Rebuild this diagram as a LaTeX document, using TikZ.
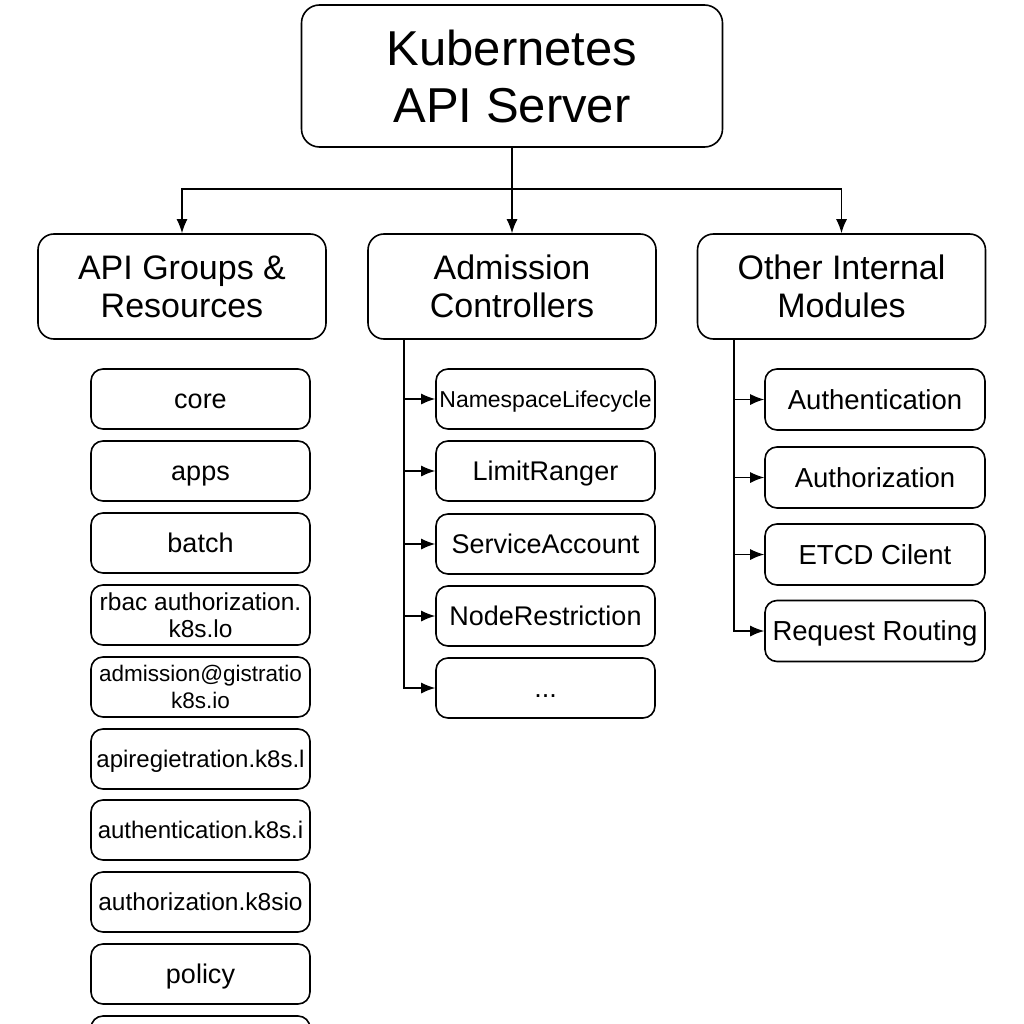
\documentclass[tikz,border=0pt]{standalone}
\usepackage{fontspec}
\setmainfont{Liberation Sans}
\usetikzlibrary{arrows.meta}

\begin{document}
\begin{tikzpicture}[x=1pt, y=-1pt,
	box/.style={draw, line width=1.6pt, align=center, inner sep=0pt},
	server/.style={box, rounded corners=18pt, minimum width=421pt, minimum height=142pt,
		font=\fontsize{49}{57}\selectfont},
	group/.style={box, rounded corners=16pt, minimum width=288pt, minimum height=105pt,
		font=\fontsize{34}{38}\selectfont},
	itembox/.style={box, rounded corners=12pt, minimum width=219pt, minimum height=60pt,
		font=\fontsize{24.5}{27}\selectfont},
	item/.style={itembox, text height=17.6pt, text depth=.5pt},
	bigitem/.style={item, font=\fontsize{27}{29}\selectfont, text height=19.4pt},
	ctrl/.style={bigitem},
	module/.style={item, minimum width=220pt, minimum height=61pt,
		font=\fontsize{27.5}{29}\selectfont, text height=19.8pt},
	link/.style={line width=1.3pt},
	arr/.style={link, -{Latex[length=14pt, width=11pt]}}]
		\clip (0,0) rectangle (1024,1024);
		% top
		\node[server] (server) at (512,76) {Kubernetes\\API Server};
		% second row
		\node[group] (groups) at (182,286.5) {API Groups \&\\Resources};
		\node[group] (admission) at (512,286.5) {Admission\\Controllers};
		\node[group] (other) at (841.5,286.5) {Other Internal\\Modules};
		% api groups
		\node[bigitem] (core) at (200.5,399) {core};
		\node[bigitem] (apps) at (200.5,471) {apps};
		\node[bigitem] (batch) at (200.5,543) {batch};
		\node[itembox] (rbac) at (200.5,615) {rbac authorization.\\k8s.lo};
		\node[itembox, font=\fontsize{22.5}{27}\selectfont] (admreg) at (200.5,687) {admission@gistratio\\k8s.io};
		\node[item, font=\fontsize{24}{27}\selectfont] (apireg) at (200.5,759) {apiregietration.k8s.l};
		\node[item, font=\fontsize{24}{27}\selectfont] (authn) at (200.5,830) {authentication.k8s.i};
		\node[item] (authz) at (200.5,902) {authorization.k8sio};
		\node[bigitem] (policy) at (200.5,974) {policy};
		\node[item] (more) at (200.5,1046) {};
		% admission controllers
		\node[ctrl, font=\fontsize{23}{27}\selectfont, text height=16.6pt] (nslife) at (545.5,399) {NamespaceLifecycle};
		\node[ctrl] (limit) at (545.5,471) {LimitRanger};
		\node[ctrl] (svcacc) at (545.5,544) {ServiceAccount};
		\node[ctrl] (noderes) at (545.5,616) {NodeRestriction};
		\node[ctrl] (dots) at (545.5,688) {...};
		% other modules
		\node[module] (authmod) at (875,399.5) {Authentication};
		\node[module] (authzmod) at (875,477.5) {Authorization};
		\node[module] (etcd) at (875,554.5) {ETCD Cilent};
		\node[module] (routing) at (875,631) {Request Routing};
		% server to groups
		\coordinate (split) at (512,189);
		\draw[link] (server.south) -- (split);
		\draw[arr] (split) -| (groups.north);
		\draw[arr] (split) -| (other.north);
		\draw[arr] (split) -- (admission.north);
		% admission trunk
		\coordinate (atrunk) at (404,339);
		\draw[arr] (atrunk) |- (dots.west);
		\draw[arr] (atrunk |- nslife.west) -- (nslife.west);
		\draw[arr] (atrunk |- limit.west) -- (limit.west);
		\draw[arr] (atrunk |- svcacc.west) -- (svcacc.west);
		\draw[arr] (atrunk |- noderes.west) -- (noderes.west);
		% modules trunk
		\coordinate (otrunk) at (734,339);
		\draw[arr] (otrunk) |- (routing.west);
		\draw[arr] (otrunk |- authmod.west) -- (authmod.west);
		\draw[arr] (otrunk |- authzmod.west) -- (authzmod.west);
		\draw[arr] (otrunk |- etcd.west) -- (etcd.west);
\end{tikzpicture}
\end{document}
